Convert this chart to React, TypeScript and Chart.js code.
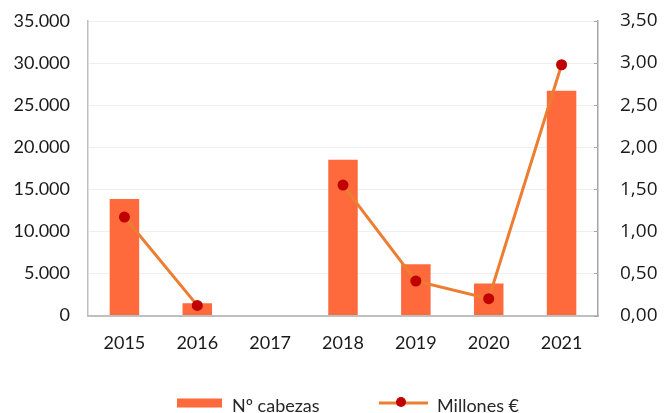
import React, { useEffect, useRef } from "react";
import { Chart, registerables } from "chart.js";

Chart.register(...registerables);

const years = ["2015", "2016", "2017", "2018", "2019", "2020", "2021"];
const cabezas = [13850, 1450, 0, 18500, 6100, 3800, 26700];
const millones: (number | null)[] = [1.17, 0.12, null, 1.55, 0.41, 0.2, 2.98];
const leftTicks = [0, 5000, 10000, 15000, 20000, 25000, 30000, 35000];
const rightTicks = [0, 0.5, 1, 1.5, 2, 2.5, 3, 3.5];
const legendLabels = ["Nº cabezas", "Millones €"];

const BAR = "#FF6A3D";
const LINE = "#ED7D31";
const DOT = "#C00000";
const FONT = "Lato, 'DejaVu Sans', sans-serif";
const RFONT = "'Open Sans', sans-serif";

const fmtThousands = (v: number) =>
  String(Math.round(v)).replace(/\B(?=(\d{3})+(?!\d))/g, ".");
const fmtDec = (v: number) => v.toFixed(2).replace(".", ",");

const extras = {
  id: "extras",
  afterDraw(chart: any) {
    const ctx = chart.ctx;
    const y1 = chart.scales.y1;
    ctx.save();
    ctx.strokeStyle = "#a6a6a6";
    ctx.lineWidth = 1;
    rightTicks.forEach((t) => {
      const py = Math.round(y1.getPixelForValue(t)) + 0.5;
      ctx.beginPath();
      ctx.moveTo(y1.left - 4, py);
      ctx.lineTo(y1.left, py);
      ctx.stroke();
    });
    const ly = 403;
    ctx.fillStyle = BAR;
    ctx.fillRect(177, ly - 4.5, 45, 9);
    ctx.font = "18px " + FONT;
    ctx.fillStyle = "#262626";
    ctx.textBaseline = "middle";
    ctx.textAlign = "left";
    ctx.fillText(legendLabels[0], 232, ly + 3);
    ctx.strokeStyle = LINE;
    ctx.lineWidth = 3;
    ctx.beginPath();
    ctx.moveTo(379, ly);
    ctx.lineTo(428, ly);
    ctx.stroke();
    ctx.fillStyle = DOT;
    ctx.beginPath();
    ctx.arc(401, ly - 1, 5, 0, Math.PI * 2);
    ctx.fill();
    ctx.fillStyle = "#262626";
    ctx.fillText(legendLabels[1], 437, ly + 3);
    ctx.restore();
  },
};

export default function App() {
  const ref = useRef<HTMLCanvasElement>(null);
  useEffect(() => {
    if (!ref.current) return;
    const chart = new Chart(ref.current, {
      type: "bar",
      data: {
        labels: years,
        datasets: [
          {
            type: "line",
            label: legendLabels[1],
            data: millones,
            yAxisID: "y1",
            borderColor: LINE,
            borderWidth: 3,
            pointBackgroundColor: DOT,
            pointBorderColor: DOT,
            pointRadius: 5.5,
            pointBorderWidth: 0,
            spanGaps: false,
            order: 1,
          } as any,
          {
            type: "bar",
            label: legendLabels[0],
            data: cabezas,
            yAxisID: "y",
            backgroundColor: BAR,
            barPercentage: 0.405,
            categoryPercentage: 1,
            order: 2,
          },
        ],
      },
      options: {
        responsive: false,
        animation: false,
        devicePixelRatio: 1,
        layout: { padding: { top: 21, right: 0, left: 0, bottom: 0 } },
        plugins: { legend: { display: false }, tooltip: { enabled: false } },
        scales: {
          x: {
            grid: { display: false, drawTicks: false },
            border: { display: true, color: "#bfbfbf", width: 2 },
            ticks: { color: "#1a1a1a", font: { family: FONT, size: 18 }, padding: 17 },
            afterFit: (s: any) => {
              s.height = 97.5;
              s.paddingLeft = 0;
              s.paddingRight = 0;
            },
          },
          y: {
            position: "left",
            min: 0,
            max: 35000,
            afterBuildTicks: (s: any) => {
              s.ticks = leftTicks.map((v) => ({ value: v }));
            },
            grid: { color: "#efefef", lineWidth: 1, drawTicks: false },
            border: { display: true, color: "#bfbfbf", width: 1.5 },
            ticks: {
              color: "#1a1a1a",
              font: { family: FONT, size: 18 },
              padding: 18,
              callback: (v: any) => fmtThousands(Number(v)),
            },
            afterFit: (s: any) => {
              s.width = 88;
              s.paddingTop = 0;
              s.paddingBottom = 0;
            },
          },
          y1: {
            position: "right",
            min: 0,
            max: 3.5,
            afterBuildTicks: (s: any) => {
              s.ticks = rightTicks.map((v) => ({ value: v }));
            },
            grid: { drawOnChartArea: false, drawTicks: false },
            border: { display: true, color: "#a6a6a6", width: 1.5 },
            ticks: {
              color: "#1a1a1a",
              font: { family: RFONT, size: 19 },
              padding: 22,
              callback: (v: any) => fmtDec(Number(v)),
            },
            afterFit: (s: any) => {
              s.width = 70;
              s.paddingTop = 0;
              s.paddingBottom = 0;
            },
          },
        },
      },
      plugins: [extras],
    });
    return () => chart.destroy();
  }, []);
  return (
    <div style={{ position: "fixed", left: 0, top: 0, width: 668, height: 413, background: "#fff" }}>
      <canvas ref={ref} width={668} height={413} />
    </div>
  );
}
